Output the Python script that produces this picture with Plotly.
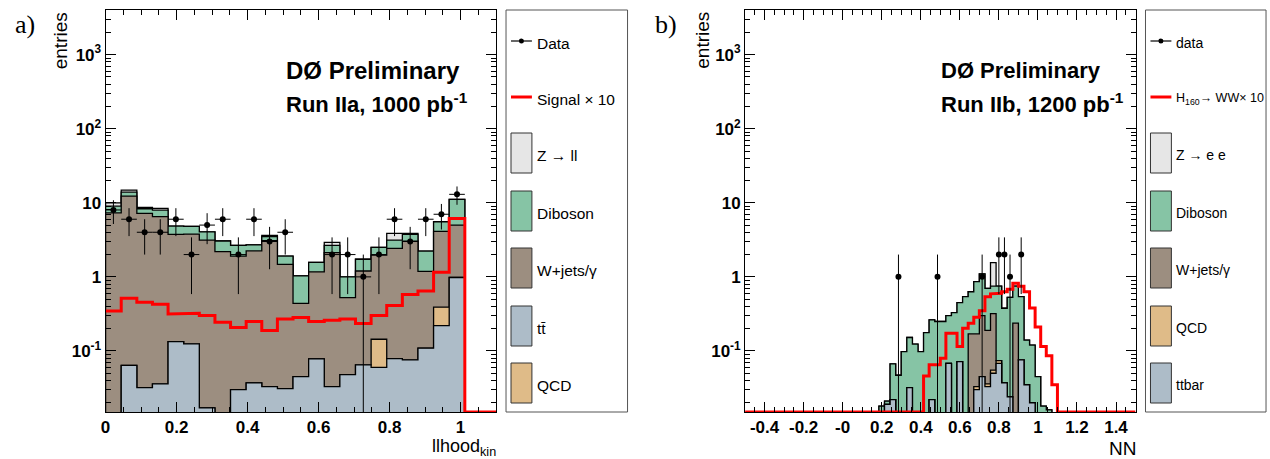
import numpy as np
import plotly.graph_objects as go

# ---------------- data: panel a) llhood_kin (25 bins, 0 .. 1.1) ----------------
lh_range = (0.0, 1.1)
lh_nbins = 25
lh_data = [8, 6, 4, 4, 6, 2, 5, 6, 2, 6, 3, 4, 0, 0, 2, 2, 1, 2, 6, 3, 6, 7, 13, 0, 0]
lh_signal = [0.347, 0.514, 0.454, 0.427, 0.316, 0.323, 0.300, 0.244, 0.207, 0.249, 0.189, 0.271, 0.282,
             0.249, 0.260, 0.270, 0.234, 0.300, 0.410, 0.580, 0.645, 1.150, 6.150, 0, 0]
lh_ttbar = [0, 0.064, 0.032, 0.036, 0.134, 0.125, 0.017, 0, 0.030, 0.037, 0.033, 0.031, 0.045,
            0.078, 0.033, 0.048, 0.065, 0.060, 0.079, 0.076, 0.109, 0.220, 0.980, 0, 0]
lh_qcd = [0, 0, 0, 0, 0, 0, 0, 0, 0, 0, 0, 0, 0, 0, 0, 0, 0, 0.084, 0, 0, 0, 0.17, 0, 0, 0]
lh_wjets = [7.30, 12.24, 7.17, 6.46, 3.61, 3.66, 3.12, 2.19, 1.87, 2.20, 3.04, 1.44, 0.395,
            1.09, 2.09, 0.477, 1.135, 1.826, 2.35, 2.97, 1.08, 3.72, 4.02, 0, 0]
lh_diboson = [1.70, 1.60, 1.10, 1.46, 1.11, 1.02, 0.92, 0.86, 0.76, 0.46, 0.43, 0.44, 0.59,
              0.40, 0.54, 0.475, 0.53, 0.53, 0.71, 0.69, 1.04, 1.44, 6.10, 0, 0]
lh_zll = [1.00, 0.90, 0.35, 0.44, 0, 0, 0, 0, 0, 0, 0.13, 0, 0, 0, 0.26, 0, 0, 0, 0.72, 0.12, 0, 0, 0, 0, 0]

# ---------------- data: panel b) NN (70 bins, -0.5 .. 1.5); values for bins 23..55 ----------------
nn_range = (-0.5, 1.5)
nn_nbins = 70
nn_first_bin = 23
nn_data = [0, 0, 0, 0, 1, 0, 0, 0, 0, 0, 0, 1, 0, 0, 0, 0, 0, 0, 0, 1, 0, 0, 2, 2, 1, 0, 2, 0, 0, 0, 0, 0, 0]
nn_signal = [0, 0, 0, 0, 0, 0, 0, 0, 0, 0.046, 0.065, 0.065, 0.08, 0.174, 0.174, 0.115, 0.203, 0.237,
             0.285, 0.35, 0.54, 0.59, 0.60, 0.63, 0.68, 0.82, 0.75, 0.63, 0.38, 0.21, 0.115, 0.086, 0.035]
nn_ttbar = [0, 0, 0.019, 0.022, 0, 0, 0.032, 0, 0, 0, 0.022, 0, 0, 0.068, 0, 0.072, 0, 0, 0.030,
            0.045, 0.033, 0.050, 0.068, 0.037, 0.024, 0, 0.076, 0.035, 0.020, 0, 0, 0, 0]
nn_qcd = [0, 0, 0, 0, 0, 0, 0, 0, 0, 0, 0, 0, 0, 0, 0, 0, 0, 0, 0.003, 0, 0.003, 0.005, 0.006, 0,
          0, 0, 0, 0, 0, 0, 0, 0, 0]
nn_wjets = [0, 0, 0, 0, 0, 0, 0, 0, 0, 0, 0, 0, 0, 0, 0, 0, 0, 0.17, 0.137, 0.255, 0.154, 0.265, 0,
            0, 0, 0.237, 0, 0, 0, 0, 0, 0, 0]
nn_diboson = [0, 0.018, 0.002, 0.045, 0.047, 0.098, 0.120, 0.124, 0.098, 0.177, 0.240, 0.25, 0.25,
              0.232, 0.33, 0.378, 0.54, 0.46, 0.69, 0.80, 0.51, 0.43, 0.676, 0.34, 0.506, 0.513,
              0.464, 0.105, 0.10, 0.045, 0.018, 0.016, 0]
nn_zee = [0, 0, 0, 0, 0, 0, 0, 0, 0, 0, 0, 0, 0, 0, 0, 0, 0, 0, 0, 0, 0, 0.81, 0, 0, 0, 0, 0, 0, 0,
          0, 0, 0, 0]

y_min, y_max = 0.015, 4000.0
y_tickvals = [0.1, 1, 10, 100, 1000]
y_ticktext = ["10<sup>-1</sup>", "1", "10", "10<sup>2</sup>", "10<sup>3</sup>"]

# ---------------- style ----------------
W, H = 1270, 459
C_Z = "#e6e6e6"
C_DIB = "#86c4a5"
C_W = "#9c8e80"
C_TT = "#adbcc8"
C_QCD = "#dfbb88"
C_SIG = "#ff0000"
FONT = "Liberation Sans"
FLOOR = 1e-3


def px(x):
    return x / W


def py(y):
    return 1 - y / H


def pad(vals):
    full = np.zeros(nn_nbins)
    full[nn_first_bin:nn_first_bin + len(vals)] = vals
    return full


fig = go.Figure()


def add_stack(edges, comps, colors, xa, ya):
    cum = np.cumsum(np.array(comps, dtype=float), axis=0)
    for lvl in range(len(comps) - 1, -1, -1):
        v = np.where(cum[lvl] > 0, cum[lvl], FLOOR)
        xs = [edges[0]]
        ys = [FLOOR]
        for i in range(len(v)):
            xs += [edges[i], edges[i + 1]]
            ys += [v[i], v[i]]
        xs += [edges[-1], edges[0]]
        ys += [FLOOR, FLOOR]
        fig.add_trace(go.Scatter(x=xs, y=ys, mode="lines", fill="toself", fillcolor=colors[lvl],
                                 line=dict(color="black", width=1.3), xaxis=xa, yaxis=ya,
                                 hoverinfo="skip", showlegend=False))


def add_signal(edges, vals, xa, ya):
    v = np.where(np.array(vals) > 0, vals, y_min)
    xs = np.repeat(edges, 2)[1:-1]
    ys = np.repeat(v, 2)
    fig.add_trace(go.Scatter(x=xs, y=ys, mode="lines", line=dict(color=C_SIG, width=3),
                             xaxis=xa, yaxis=ya, hoverinfo="skip", showlegend=False))


def add_data(edges, counts, xa, ya, xerr):
    counts = np.array(counts, dtype=float)
    centers = 0.5 * (edges[:-1] + edges[1:])
    m = counts > 0
    n = counts[m]
    err = np.sqrt(n)
    errm = np.where(err >= n, n - FLOOR, err)
    ex = dict(type="data", array=0.5 * np.diff(edges)[m], color="black", thickness=1, width=0,
              visible=xerr)
    fig.add_trace(go.Scatter(x=centers[m], y=n, mode="markers",
                             marker=dict(color="black", size=6),
                             error_y=dict(type="data", symmetric=False, array=err, arrayminus=errm,
                                          color="black", thickness=1, width=0),
                             error_x=ex, xaxis=xa, yaxis=ya, hoverinfo="skip", showlegend=False))


# panel a
lh_edges = np.linspace(lh_range[0], lh_range[1], lh_nbins + 1)
add_stack(lh_edges, [lh_ttbar, lh_qcd, lh_wjets, lh_diboson, lh_zll],
          [C_TT, C_QCD, C_W, C_DIB, C_Z], "x", "y")
add_signal(lh_edges, lh_signal, "x", "y")
add_data(lh_edges, lh_data, "x", "y", True)

# panel b
nn_edges = np.linspace(nn_range[0], nn_range[1], nn_nbins + 1)
add_stack(nn_edges, [pad(nn_ttbar), pad(nn_qcd), pad(nn_wjets), pad(nn_diboson), pad(nn_zee)],
          [C_TT, C_QCD, C_W, C_DIB, C_Z], "x2", "y2")
add_signal(nn_edges, pad(nn_signal), "x2", "y2")
add_data(nn_edges, pad(nn_data), "x2", "y2", False)

# ---------------- axes ----------------
minor_y = [m * 10.0 ** e for e in range(-2, 4) for m in range(2, 10)]
tickfont = dict(family=FONT, size=17, color="black")


def xaxis_cfg(domain, rng, vals, texts, minor_step):
    return dict(domain=domain, range=list(rng), showline=True, linecolor="black", linewidth=1,
                mirror="allticks", ticks="inside", ticklen=10, tickcolor="black", tickwidth=1,
                tickvals=vals, ticktext=["<b>%s</b>" % t for t in texts], tickfont=tickfont,
                showgrid=False, zeroline=False, fixedrange=True,
                minor=dict(ticks="inside", ticklen=5, tickcolor="black", tickwidth=1,
                           dtick=minor_step, tick0=0, showgrid=False))


def yaxis_cfg(anchor):
    return dict(type="log", domain=[py(412), py(10)], range=[np.log10(y_min), np.log10(y_max)],
                anchor=anchor, showline=True, linecolor="black", linewidth=1, mirror="allticks",
                ticks="inside", ticklen=10, tickcolor="black", tickwidth=1,
                tickvals=y_tickvals, ticktext=["<b>%s</b>" % t for t in y_ticktext],
                tickfont=tickfont, showgrid=False, zeroline=False, fixedrange=True,
                minor=dict(ticks="inside", ticklen=5, tickcolor="black", tickwidth=1,
                           tickmode="array", tickvals=minor_y, showgrid=False))


lh_ticks = [0, 0.2, 0.4, 0.6, 0.8, 1.0]
lh_labels = ["0", "0.2", "0.4", "0.6", "0.8", "1"]
nn_ticks = [-0.4, -0.2, 0, 0.2, 0.4, 0.6, 0.8, 1.0, 1.2, 1.4]
nn_labels = ["-0.4", "-0.2", "-0", "0.2", "0.4", "0.6", "0.8", "1", "1.2", "1.4"]

fig.update_layout(
    width=W, height=H, margin=dict(l=0, r=0, t=0, b=0),
    paper_bgcolor="white", plot_bgcolor="white", showlegend=False,
    xaxis=dict(anchor="y", **xaxis_cfg([px(101), px(493)], lh_range, lh_ticks, lh_labels, 0.05)),
    yaxis=yaxis_cfg("x"),
    xaxis2=dict(anchor="y2", **xaxis_cfg([px(743), px(1135)], nn_range, nn_ticks, nn_labels, 0.05)),
    yaxis2=yaxis_cfg("x2"),
)

# ---------------- annotations & legends ----------------
ann = []
shapes = []


def text(x, y, s, size, xanchor="left", yanchor="middle", family=FONT, angle=0, color="black"):
    ann.append(dict(x=px(x), y=py(y), xref="paper", yref="paper", text=s, showarrow=False,
                    xanchor=xanchor, yanchor=yanchor, textangle=angle,
                    font=dict(family=family, size=size, color=color)))


# panel labels
text(20, 24, "a)", 26, xanchor="center", family="Liberation Serif")
text(664, 24, "b)", 26, xanchor="center", family="Liberation Serif")
# y titles
text(56, 10, "entries", 19, xanchor="center", yanchor="top", angle=-90)
text(700, 10, "entries", 19, xanchor="center", yanchor="top", angle=-90)
# x titles
text(495, 447, "llhood<sub>kin</sub>", 18, xanchor="right")
text(1137, 448, "NN", 19, xanchor="right")
# experiment labels
text(280, 70, "<b>DØ Preliminary</b>", 24)
text(280, 103, "<b>Run IIa, 1000 pb<sup>-1</sup></b>", 22)
text(938, 70, "<b>DØ Preliminary</b>", 22)
text(938, 103, "<b>Run IIb, 1200 pb<sup>-1</sup></b>", 22)


def legend(x0, x1, entries, fsize):
    shapes.append(dict(type="rect", xref="paper", yref="paper", x0=px(x0), x1=px(x1), y0=py(412),
                       y1=py(10), line=dict(color="#555555", width=1), fillcolor="white",
                       layer="below"))
    sx0, sx1 = x0 + 5, x0 + 26
    rows = [41, 97, 153, 211, 268, 326, 383]
    for (kind, label, color, lsize), yc in zip(entries, rows):
        if kind == "data":
            shapes.append(dict(type="line", xref="paper", yref="paper", x0=px(sx0), x1=px(sx1),
                               y0=py(yc), y1=py(yc), line=dict(color="black", width=1.2)))
            shapes.append(dict(type="circle", xref="paper", yref="paper", x0=px(sx0 + 8),
                               x1=px(sx0 + 13), y0=py(yc + 2.5), y1=py(yc - 2.5),
                               fillcolor="black", line=dict(color="black", width=0)))
        elif kind == "line":
            shapes.append(dict(type="line", xref="paper", yref="paper", x0=px(sx0), x1=px(sx1),
                               y0=py(yc), y1=py(yc), line=dict(color=color, width=3)))
        else:
            shapes.append(dict(type="rect", xref="paper", yref="paper", x0=px(sx0), x1=px(sx1),
                               y0=py(yc + 20), y1=py(yc - 20), fillcolor=color,
                               line=dict(color="#333333", width=1)))
        text(sx1 + 3, yc + 2, label, lsize or fsize)


legend(503, 625, [("data", "Data", None, None), ("line", "Signal × 10", C_SIG, None),
                  ("box", "Z → ll", C_Z, None), ("box", "Diboson", C_DIB, None),
                  ("box", "W+jets/γ", C_W, None), ("box", "tt\u0304", C_TT, None),
                  ("box", "QCD", C_QCD, None)], 15.5)
legend(1145, 1266, [("data", "data", None, None),
                    ("line", "H<sub>160</sub>→ WW× 10", C_SIG, 12.5),
                    ("box", "Z → e e", C_Z, None), ("box", "Diboson", C_DIB, None),
                    ("box", "W+jets/γ", C_W, None), ("box", "QCD", C_QCD, None),
                    ("box", "ttbar", C_TT, None)], 14)

fig.update_layout(annotations=ann, shapes=shapes)
fig.write_html("out.html", config={"displayModeBar": False, "staticPlot": True},
               post_script="document.body.style.margin='0';document.body.style.overflow='hidden';")
